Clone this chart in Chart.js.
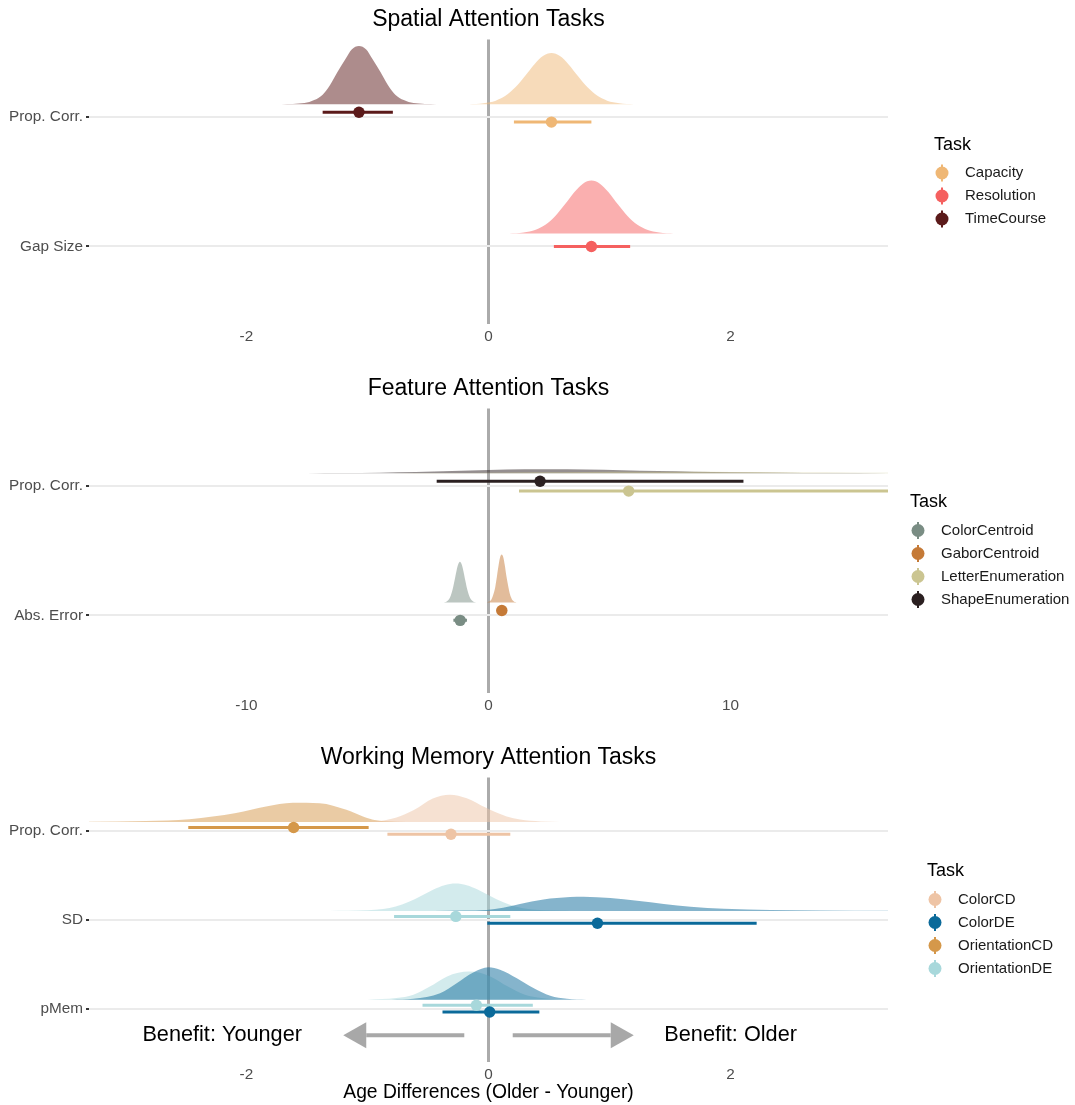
<!DOCTYPE html>
<html>
<head>
<meta charset="utf-8">
<script src="https://cdn.jsdelivr.net/npm/chart.js@4.4.1/dist/chart.umd.min.js"></script>
<style>
  html, body { margin: 0; padding: 0; background: #fff; }
  #wrap { position: relative; width: 1075px; height: 1105px; }
  canvas { position: absolute; left: 0; }
</style>
</head>
<body>
<div id="wrap">
  <canvas id="spatial" width="1075" height="369" style="top:0px"></canvas>
  <canvas id="feature" width="1075" height="369" style="top:369px"></canvas>
  <canvas id="memory" width="1075" height="367" style="top:738px"></canvas>
</div>
<script>
// ---------- Spatial attention tasks ----------
const spatialTasks = ['Capacity', 'Resolution', 'TimeCourse'];
const spatialColors = ['#EFB775', '#F5605F', '#5B1A1A'];
const spatialMeasures = ['Prop. Corr.', 'Gap Size'];
const spatialTicks = [-2, 0, 2];
const spatialEstTask = ['Capacity', 'Resolution', 'TimeCourse'];
const spatialEstMeasure = ['Prop. Corr.', 'Gap Size', 'Prop. Corr.'];
const spatialMedian = [0.52, 0.85, -1.07];
const spatialLower = [0.21, 0.54, -1.37];
const spatialUpper = [0.85, 1.17, -0.79];
const spatialDensX = [
  [-0.16, -0.04, 0.06, 0.14, 0.22, 0.30, 0.38, 0.45, 0.52, 0.59, 0.66, 0.74, 0.82, 0.90, 0.98, 1.08, 1.20],
  [0.17, 0.29, 0.39, 0.47, 0.55, 0.63, 0.71, 0.78, 0.85, 0.92, 0.99, 1.07, 1.15, 1.23, 1.31, 1.41, 1.53],
  [-1.71, -1.52, -1.44, -1.37, -1.31, -1.25, -1.18, -1.13, -1.07, -1.01, -0.96, -0.89, -0.83, -0.77, -0.70, -0.62, -0.43]
];
const spatialDensY = [
  [0, 0.018, 0.062, 0.144, 0.286, 0.48, 0.689, 0.828, 0.88, 0.828, 0.689, 0.48, 0.286, 0.144, 0.062, 0.018, 0],
  [0, 0.018, 0.065, 0.149, 0.296, 0.497, 0.713, 0.856, 0.91, 0.856, 0.713, 0.497, 0.296, 0.149, 0.065, 0.018, 0],
  [0, 0.02, 0.071, 0.164, 0.325, 0.546, 0.783, 0.941, 1, 0.941, 0.783, 0.546, 0.325, 0.164, 0.071, 0.02, 0]
];

// ---------- Feature attention tasks ----------
const featureTasks = ['ColorCentroid', 'GaborCentroid', 'LetterEnumeration', 'ShapeEnumeration'];
const featureColors = ['#7A8D84', '#C57A37', '#CBC591', '#2B2021'];
const featureMeasures = ['Prop. Corr.', 'Abs. Error'];
const featureTicks = [-10, 0, 10];
const featureEstTask = ['ColorCentroid', 'GaborCentroid', 'LetterEnumeration', 'ShapeEnumeration'];
const featureEstMeasure = ['Abs. Error', 'Abs. Error', 'Prop. Corr.', 'Prop. Corr.'];
const featureMedian = [-1.17, 0.55, 5.79, 2.13];
const featureLower = [-1.45, 0.34, 1.26, -2.14];
const featureUpper = [-0.89, 0.75, 21.0, 10.53];
const featureDensX = [
  [-1.86, -1.74, -1.64, -1.56, -1.48, -1.40, -1.32, -1.25, -1.18, -1.11, -1.04, -0.96, -0.88, -0.80, -0.72, -0.62, -0.50],
  [-0.07, 0.04, 0.13, 0.20, 0.28, 0.35, 0.42, 0.48, 0.545, 0.61, 0.67, 0.74, 0.82, 0.89, 0.96, 1.05, 1.16],
  [-4, -2, 0, 2, 4, 6, 8, 10, 12, 14, 16.5, 19, 22, 25],
  [-7.5, -6, -4.5, -3, -1.5, 0, 1.5, 2.5, 4, 5.5, 7, 8.5, 10, 12, 14, 16.5, 19]
];
const featureDensY = [
  [0, 0.017, 0.06, 0.139, 0.275, 0.462, 0.663, 0.797, 0.847, 0.797, 0.663, 0.462, 0.275, 0.139, 0.06, 0.017, 0],
  [0, 0.02, 0.071, 0.164, 0.325, 0.546, 0.783, 0.941, 1, 0.941, 0.783, 0.546, 0.325, 0.164, 0.071, 0.02, 0],
  [0, 0.004, 0.011, 0.02, 0.027, 0.03, 0.029, 0.026, 0.021, 0.016, 0.011, 0.007, 0.003, 0],
  [0, 0.004, 0.012, 0.026, 0.045, 0.066, 0.081, 0.083, 0.076, 0.061, 0.045, 0.031, 0.02, 0.011, 0.005, 0.002, 0]
];

// ---------- Working memory attention tasks ----------
const memoryTasks = ['ColorCD', 'ColorDE', 'OrientationCD', 'OrientationDE'];
const memoryColors = ['#EEC4A5', '#0B6A9A', '#D5984A', '#A8D8DB'];
const memoryMeasures = ['Prop. Corr.', 'SD', 'pMem'];
const memoryTicks = [-2, 0, 2];
const memoryEstTask = ['ColorCD', 'ColorDE', 'ColorDE', 'OrientationCD', 'OrientationDE', 'OrientationDE'];
const memoryEstMeasure = ['Prop. Corr.', 'SD', 'pMem', 'Prop. Corr.', 'SD', 'pMem'];
const memoryMedian = [-0.31, 0.90, 0.01, -1.61, -0.27, -0.10];
const memoryLower = [-0.835, -0.01, -0.38, -2.48, -0.78, -0.545];
const memoryUpper = [0.18, 2.215, 0.42, -0.99, 0.18, 0.366];
const memoryDensX = [
  [-1.2, -0.95, -0.76, -0.62, -0.46, -0.32, -0.18, -0.02, 0.15, 0.26, 0.43, 0.59, 0.75],
  [-0.45, -0.2, -0.015, 0.12, 0.26, 0.454, 0.675, 0.785, 1.006, 1.227, 1.448, 1.669, 1.945, 2.33, 2.745, 3.3, 3.8],
  [-0.8, -0.62, -0.40, -0.263, -0.126, 0, 0.095, 0.234, 0.371, 0.51, 0.648, 0.81, 0.95],
  [-3.6, -3.3, -2.83, -2.47, -2.085, -1.837, -1.616, -1.395, -1.174, -1.037, -0.926, -0.76, -0.6],
  [-1.31, -1.156, -1.0, -0.87, -0.766, -0.662, -0.558, -0.454, -0.363, -0.272, -0.181, -0.09, 0.014, 0.118, 0.222, 0.326, 0.456, 0.612, 0.67],
  [-1.0, -0.76, -0.62, -0.484, -0.346, -0.25, -0.16, -0.07, 0.02, 0.16, 0.3, 0.44, 0.58, 0.72]
];
const memoryDensY = [
  [0, 0.017, 0.142, 0.36, 0.721, 0.838, 0.729, 0.436, 0.168, 0.075, 0.017, 0.003, 0],
  [0, 0.011, 0.03, 0.099, 0.212, 0.35, 0.423, 0.432, 0.393, 0.311, 0.212, 0.13, 0.069, 0.03, 0.013, 0.004, 0],
  [0, 0.03, 0.2, 0.51, 0.84, 1, 0.92, 0.66, 0.36, 0.12, 0.03, 0.003, 0],
  [0, 0.006, 0.03, 0.089, 0.274, 0.476, 0.595, 0.577, 0.375, 0.173, 0.051, 0.006, 0],
  [0, 0.003, 0.017, 0.06, 0.137, 0.272, 0.458, 0.656, 0.789, 0.838, 0.789, 0.656, 0.458, 0.272, 0.137, 0.06, 0.017, 0.003, 0],
  [0, 0.052, 0.156, 0.407, 0.709, 0.83, 0.865, 0.83, 0.709, 0.407, 0.156, 0.052, 0.009, 0]
];

// ---------- drawing ----------
const FONT = '"Liberation Sans", Arial, Helvetica, sans-serif';
const DODGE = 0.038;   // vertical offset between the two estimates sharing a row
const LIFT = 0.1;      // densities float slightly above their row line

function withAlpha(hex, a) {
  const n = parseInt(hex.slice(1), 16);
  return `rgba(${(n >> 16) & 255},${(n >> 8) & 255},${n & 255},${a})`;
}

function legendPlugin(tasks, colors) {
  return {
    id: 'taskLegend',
    afterDraw(chart) {
      const ctx = chart.ctx;
      ctx.save();
      ctx.font = `15px ${FONT}`;
      const widest = Math.max(...tasks.map(t => ctx.measureText(t).width));
      const left = Math.round(990 - (widest + 31) / 2);
      const titleY = 182 - (28 + (tasks.length - 1) * 23) / 2;
      ctx.textBaseline = 'middle';
      ctx.textAlign = 'left';
      ctx.fillStyle = '#000';
      ctx.font = `18px ${FONT}`;
      ctx.fillText('Task', left, titleY);
      ctx.font = `15px ${FONT}`;
      tasks.forEach((t, i) => {
        const y = titleY + 28 + i * 23;
        const mx = left + 8;
        ctx.strokeStyle = colors[i];
        ctx.lineWidth = 2;
        ctx.beginPath();
        ctx.moveTo(mx, y - 8.5);
        ctx.lineTo(mx, y + 8.5);
        ctx.stroke();
        ctx.fillStyle = colors[i];
        ctx.beginPath();
        ctx.arc(mx, y, 6.5, 0, Math.PI * 2);
        ctx.fill();
        ctx.fillStyle = '#1a1a1a';
        ctx.fillText(t, left + 31, y);
      });
      ctx.restore();
    }
  };
}

// "Benefit" arrows under the working-memory panel
const benefitPlugin = {
  id: 'benefit',
  afterDatasetsDraw(chart) {
    const { ctx, scales: { x, y } } = chart;
    const py = y.getPixelForValue(0.7);
    const arrow = (from, to) => {
      const x0 = x.getPixelForValue(from), x1 = x.getPixelForValue(to);
      const dir = Math.sign(x1 - x0);
      const headBase = x1 - dir * 23;
      ctx.beginPath();
      ctx.moveTo(x0, py);
      ctx.lineTo(headBase, py);
      ctx.stroke();
      ctx.beginPath();
      ctx.moveTo(x1, py);
      ctx.lineTo(headBase, py - 13);
      ctx.lineTo(headBase, py + 13);
      ctx.closePath();
      ctx.fill();
    };
    ctx.save();
    ctx.strokeStyle = '#a8a8a8';
    ctx.fillStyle = '#a8a8a8';
    ctx.lineWidth = 4;
    arrow(-0.2, -1.2);
    arrow(0.2, 1.2);
    ctx.fillStyle = '#000';
    ctx.font = `21.7px ${FONT}`;
    ctx.textAlign = 'center';
    ctx.textBaseline = 'middle';
    ctx.fillText('Benefit: Younger', x.getPixelForValue(-2.2), py);
    ctx.fillText('Benefit: Older', x.getPixelForValue(2.0), py);
    ctx.restore();
  }
};

function buildPanel(id, p) {
  const nRows = p.measures.length;
  const rowOf = m => nRows - p.measures.indexOf(m);

  // estimates that share a row are dodged: the earlier task sits below
  const offsets = p.estTask.map((t, i) => {
    const same = p.estTask.map((_, j) => j).filter(j => p.estMeasure[j] === p.estMeasure[i]);
    if (same.length < 2) return 0;
    same.sort((a, b) => p.tasks.indexOf(p.estTask[a]) - p.tasks.indexOf(p.estTask[b]));
    return same.indexOf(i) === 0 ? -DODGE : DODGE;
  });

  const datasets = [];
  p.estTask.forEach((task, i) => {
    const col = p.colors[p.tasks.indexOf(task)];
    const row = rowOf(p.estMeasure[i]);
    const base = row + LIFT;
    datasets.push({
      type: 'line', order: 3,
      data: p.densX[i].map((x, k) => ({ x, y: base + p.densY[i][k] * p.densScale })),
      borderColor: 'rgba(0,0,0,0)', borderWidth: 0,
      backgroundColor: withAlpha(col, 0.5),
      fill: { value: base },
      pointRadius: 0, cubicInterpolationMode: 'monotone', clip: 0
    });
    const y = row + offsets[i];
    datasets.push({
      type: 'line', order: 2,
      data: [{ x: p.lower[i], y }, { x: p.upper[i], y }],
      borderColor: col, borderWidth: 3, pointRadius: 0, fill: false, clip: 0
    });
    datasets.push({
      type: 'scatter', order: 1,
      data: [{ x: p.median[i], y }],
      backgroundColor: col, borderColor: col, borderWidth: 0, pointRadius: 5.7, clip: 0
    });
  });

  const plugins = [legendPlugin(p.tasks, p.colors)];
  if (p.benefit) plugins.push(benefitPlugin);

  new Chart(document.getElementById(id), {
    type: 'scatter',
    data: { datasets },
    plugins,
    options: {
      responsive: false,
      animation: false,
      devicePixelRatio: 1,
      events: [],
      layout: { padding: { left: 0, right: 187, top: 0, bottom: 0 } },
      plugins: {
        legend: { display: false },
        tooltip: { enabled: false },
        title: {
          display: true, text: p.title, fullSize: false, color: '#000',
          font: { family: FONT, size: 23, weight: 'normal' },
          padding: { top: 6, bottom: 6 }
        }
      },
      scales: {
        x: {
          type: 'linear', min: p.xMin, max: p.xMax,
          afterBuildTicks: s => { s.ticks = p.ticks.map(v => ({ value: v })); },
          afterFit: s => { s.height = p.axisHeight; },
          grid: {
            color: c => (c.tick && c.tick.value === 0 ? '#ababab' : 'rgba(0,0,0,0)'),
            lineWidth: 3, drawTicks: false
          },
          border: { display: false },
          ticks: { color: '#4d4d4d', font: { family: FONT, size: 15.3 }, padding: 4, maxRotation: 0, autoSkip: false },
          title: p.axisTitle
            ? { display: true, text: p.axisTitle, color: '#000', font: { family: FONT, size: 19.3 }, padding: { top: 0, bottom: 1 } }
            : { display: false }
        },
        y: {
          type: 'linear', min: 0.4, max: nRows + 0.6, z: -1,
          afterBuildTicks: s => { s.ticks = p.measures.map((m, i) => ({ value: nRows - i })); },
          afterFit: s => { s.width = 89; },
          grid: { color: '#ebebeb', lineWidth: 2, drawTicks: true, tickLength: 3, tickColor: '#333', tickWidth: 2 },
          border: { display: false },
          ticks: {
            color: '#4d4d4d', font: { family: FONT, size: 15.3 }, padding: 3, autoSkip: false,
            callback: v => p.measures[nRows - v]
          }
        }
      }
    }
  });
}

buildPanel('spatial', {
  title: 'Spatial Attention Tasks', tasks: spatialTasks, colors: spatialColors,
  measures: spatialMeasures, ticks: spatialTicks, xMin: -3.3, xMax: 3.3,
  estTask: spatialEstTask, estMeasure: spatialEstMeasure,
  median: spatialMedian, lower: spatialLower, upper: spatialUpper,
  densX: spatialDensX, densY: spatialDensY, densScale: 0.45, axisHeight: 45
});

buildPanel('feature', {
  title: 'Feature Attention Tasks', tasks: featureTasks, colors: featureColors,
  measures: featureMeasures, ticks: featureTicks, xMin: -16.5, xMax: 16.5,
  estTask: featureEstTask, estMeasure: featureEstMeasure,
  median: featureMedian, lower: featureLower, upper: featureUpper,
  densX: featureDensX, densY: featureDensY, densScale: 0.372, axisHeight: 45
});

buildPanel('memory', {
  title: 'Working Memory Attention Tasks', tasks: memoryTasks, colors: memoryColors,
  measures: memoryMeasures, ticks: memoryTicks, xMin: -3.3, xMax: 3.3,
  estTask: memoryEstTask, estMeasure: memoryEstMeasure,
  median: memoryMedian, lower: memoryLower, upper: memoryUpper,
  densX: memoryDensX, densY: memoryDensY, densScale: 0.367, axisHeight: 43,
  axisTitle: 'Age Differences (Older - Younger)', benefit: true
});
</script>
</body>
</html>
